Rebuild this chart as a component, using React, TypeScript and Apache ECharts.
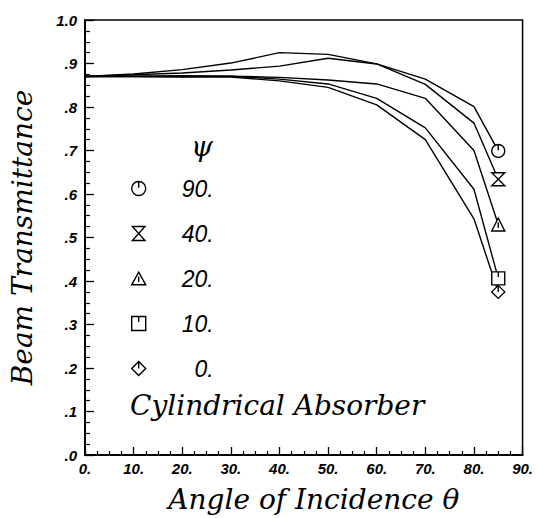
import React, { useEffect, useRef } from "react";
import * as echarts from "echarts";

const angles = [0, 10, 20, 30, 40, 50, 60, 70, 80, 85];
const psi90 = [0.87, 0.876, 0.886, 0.901, 0.925, 0.921, 0.899, 0.864, 0.801, 0.699];
const psi40 = [0.87, 0.874, 0.878, 0.885, 0.894, 0.912, 0.899, 0.852, 0.763, 0.634];
const psi20 = [0.87, 0.871, 0.872, 0.871, 0.868, 0.862, 0.853, 0.82, 0.7, 0.53];
const psi10 = [0.87, 0.87, 0.87, 0.871, 0.864, 0.853, 0.82, 0.752, 0.611, 0.406];
const psi0 = [0.87, 0.87, 0.869, 0.869, 0.86, 0.845, 0.805, 0.725, 0.543, 0.375];
const psiNames = ["90.", "40.", "20.", "10.", "0."];
const xTicks = [0, 10, 20, 30, 40, 50, 60, 70, 80, 90];

const SYM_CIRCLE = "path://M0,-10A10,10 0 1,1 0,10A10,10 0 1,1 0,-10ZM0,-10L0,-1";
const SYM_HOURGLASS = "path://M-9,-10L9,-10L-9,10L9,10Z";
const SYM_TRIANGLE = "path://M0,-10L10,8L-10,8ZM0,-4L0,4";
const SYM_SQUARE = "path://M-10,-10L10,-10L10,10L-10,10ZM0,-10L0,-2";
const SYM_DIAMOND = "path://M0,-10L10,0L0,10L-10,0ZM0,-10L0,0";
const symbols = [SYM_CIRCLE, SYM_HOURGLASS, SYM_TRIANGLE, SYM_SQUARE, SYM_DIAMOND];
const seriesValues = [psi90, psi40, psi20, psi10, psi0];

const SERIF = "DejaVu Serif";
const SANS = "Liberation Sans";

export default function App() {
  const ref = useRef<HTMLDivElement>(null);
  useEffect(() => {
    document.body.style.margin = "0";
    const chart = echarts.init(ref.current!, null, { renderer: "svg" });
    const series = seriesValues.map((vals, i) => ({
      name: psiNames[i],
      type: "line",
      showSymbol: true,
      symbol: "none",
      lineStyle: { color: "#000", width: 1.4 },
      itemStyle: { color: "#fff", borderColor: "#000", borderWidth: 1.4 },
      emphasis: { disabled: true },
      data: vals.map((v, j) =>
        j === vals.length - 1
          ? { value: [angles[j], v], symbol: symbols[i], symbolSize: 13 }
          : { value: [angles[j], v], symbol: "none" }
      ),
      z: 3,
    }));
    const serifStyle = {
      fontFamily: SERIF,
      fontStyle: "italic",
      fontSize: 28,
      color: "#000",
    };
    chart.setOption({
      animation: false,
      grid: {
        left: 84,
        right: 8,
        top: 20,
        bottom: 60,
        show: true,
        borderColor: "#000",
        borderWidth: 1.5,
        backgroundColor: "transparent",
      },
      xAxis: {
        type: "value",
        min: 0,
        max: 90,
        interval: 10,
        name: "Angle of Incidence θ",
        nameLocation: "middle",
        nameGap: 30,
        nameTextStyle: { ...serifStyle, padding: [0, 0, 0, 20] },
        axisLine: { show: true, lineStyle: { color: "#000", width: 2 } },
        axisTick: { show: true, inside: true, length: 8, lineStyle: { color: "#000", width: 1.3 } },
        minorTick: { show: true, splitNumber: 4, length: 4, lineStyle: { color: "#000", width: 1.2 } },
        splitLine: { show: false },
        axisLabel: {
          margin: 6,
          color: "#000",
          fontFamily: SANS,
          fontStyle: "italic",
          fontWeight: "bold",
          fontSize: 15,
          formatter: (v: number) => (xTicks.includes(v) ? `${v}.` : ""),
        },
      },
      yAxis: {
        type: "value",
        min: 0,
        max: 1,
        interval: 0.1,
        name: "Beam Transmittance",
        nameLocation: "middle",
        nameRotate: 90,
        nameGap: 49,
        nameTextStyle: serifStyle,
        axisLine: { show: true, lineStyle: { color: "#000", width: 2 } },
        axisTick: { show: true, inside: true, length: 9, lineStyle: { color: "#000", width: 1.3 } },
        minorTick: { show: true, splitNumber: 4, length: 5, lineStyle: { color: "#000", width: 1.2 } },
        splitLine: { show: false },
        axisLabel: {
          margin: 8,
          color: "#000",
          fontFamily: SANS,
          fontStyle: "italic",
          fontWeight: "bold",
          fontSize: 15,
          formatter: (v: number) => {
            const r = Math.round(v * 10);
            return r === 10 ? "1.0" : "." + r;
          },
        },
      },
      legend: {
        orient: "vertical",
        left: 126,
        top: 172,
        itemWidth: 14,
        itemHeight: 14,
        itemGap: 22,
        selectedMode: false,
        data: psiNames.map((n, i) => ({ name: n, icon: symbols[i] })),
        itemStyle: { color: "#fff", borderColor: "#000", borderWidth: 1.4 },
        formatter: "{a|{name}}",
        textStyle: {
          rich: {
            a: {
              width: 63,
              align: "right",
              fontFamily: SANS,
              fontStyle: "italic",
              fontSize: 23,
              lineHeight: 22,
              color: "#000",
            },
          },
        },
      },
      graphic: [
        {
          type: "text",
          left: 191,
          top: 132,
          style: { text: "ψ", ...serifStyle, fill: "#000" },
        },
        {
          type: "text",
          left: 130,
          top: 391,
          style: { text: "Cylindrical Absorber", ...serifStyle, fill: "#000" },
        },
      ],
      series,
    });
    return () => chart.dispose();
  }, []);
  return <div ref={ref} style={{ width: 536, height: 518 }} />;
}
